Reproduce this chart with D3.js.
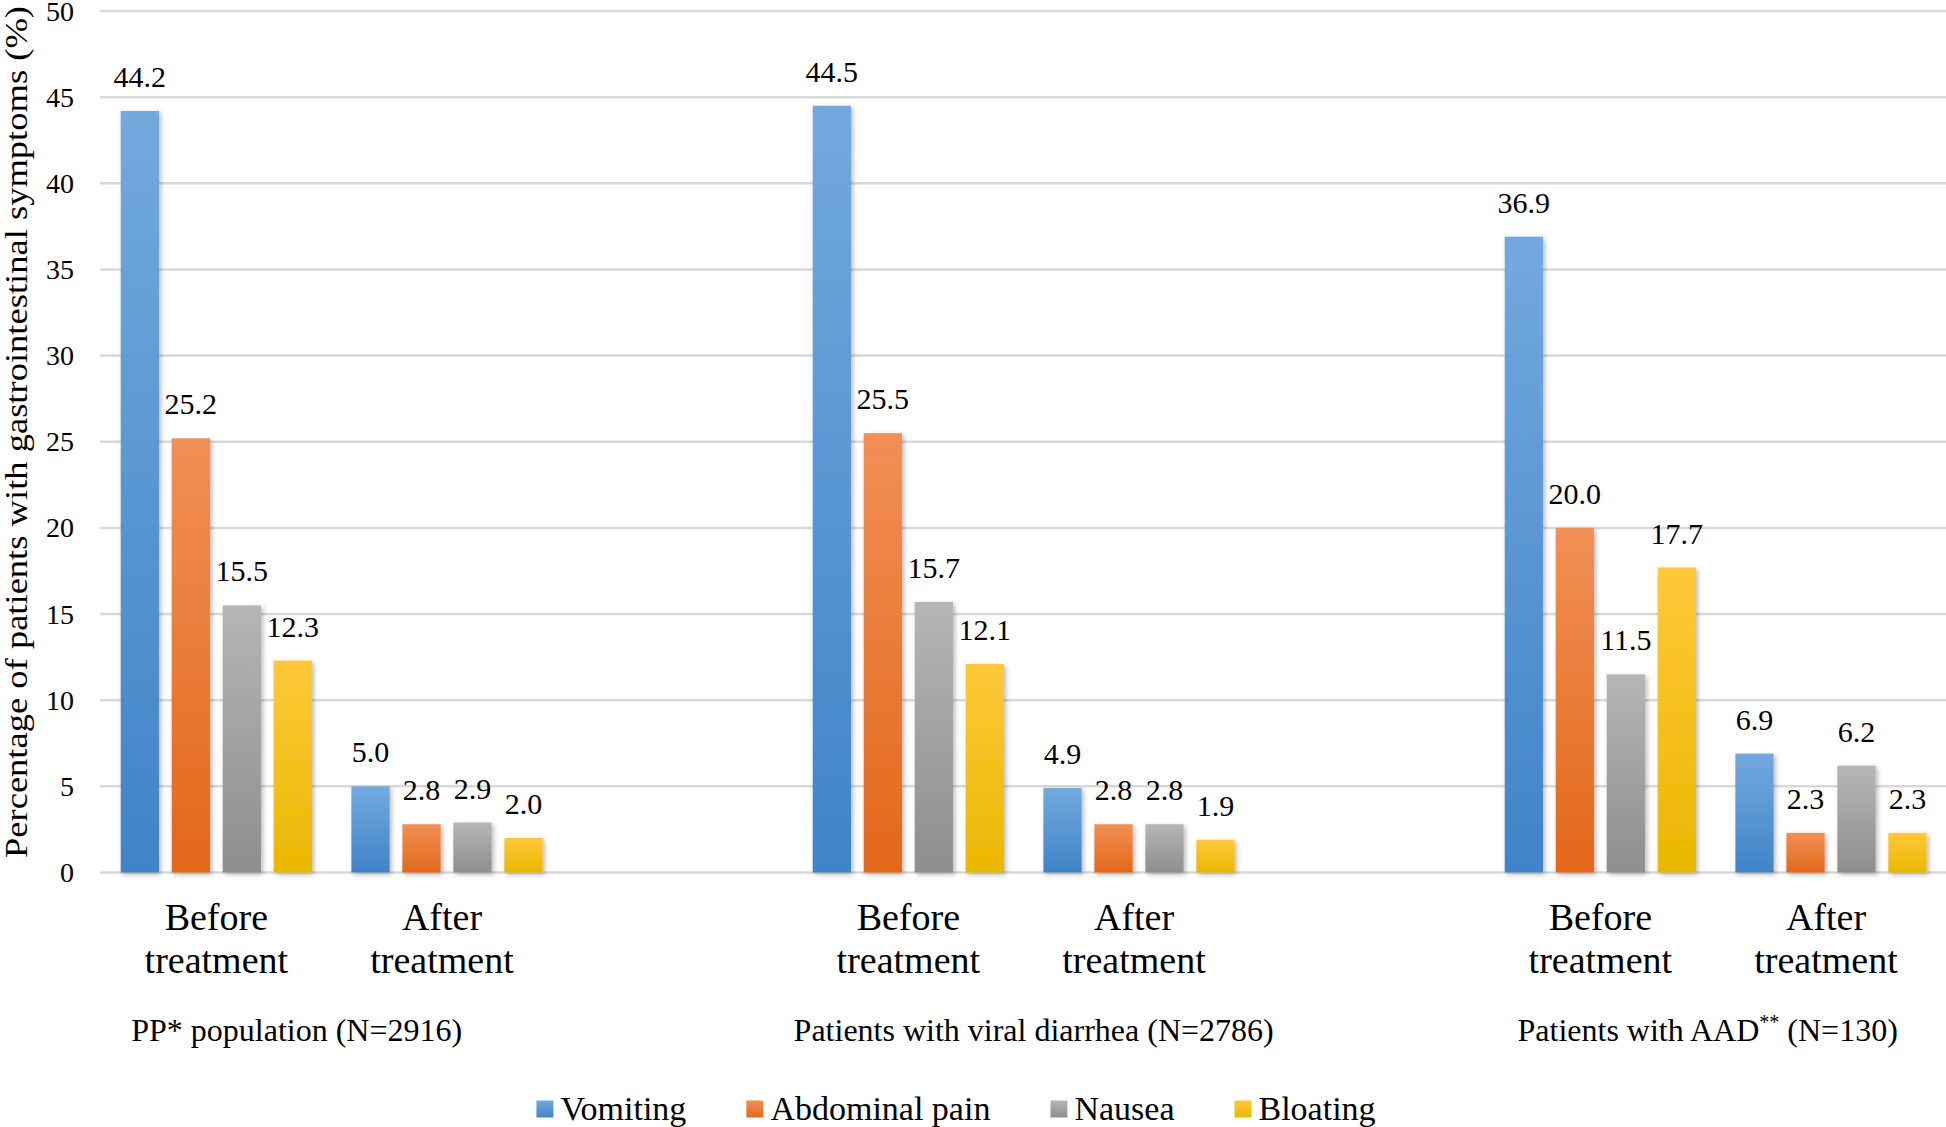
<!DOCTYPE html>
<html>
<head>
<meta charset="utf-8">
<script src="https://cdn.jsdelivr.net/npm/d3@7"></script>
<style>
  html, body { margin: 0; padding: 0; background: #ffffff; }
  svg { display: block; }
</style>
</head>
<body>
<div id="chart"></div>
<script>
// Data
const groupNames = ['PP* population', 'Patients with viral diarrhea', 'Patients with AAD'];
const groupSup = ['', '', '**'];
const groupN = [2916, 2786, 130];
const periods = ['Before treatment', 'After treatment'];
const series = ['Vomiting', 'Abdominal pain', 'Nausea', 'Bloating'];

// values ordered: [g1 before, g1 after, g2 before, g2 after, g3 before, g3 after]
const vomiting = [44.2, 5.0, 44.5, 4.9, 36.9, 6.9];
const abdominalPain = [25.2, 2.8, 25.5, 2.8, 20.0, 2.3];
const nausea = [15.5, 2.9, 15.7, 2.8, 11.5, 6.2];
const bloating = [12.3, 2.0, 12.1, 1.9, 17.7, 2.3];

const yTicks = [0, 5, 10, 15, 20, 25, 30, 35, 40, 45, 50];

// colours (top of gradient, bottom of gradient)
const seriesColors = [
  ['#72a9de', '#3f84c7'],
  ['#f28f55', '#e2681a'],
  ['#b5b5b5', '#8e8e8e'],
  ['#ffc83a', '#eab700'],
];

const FONT = "'Liberation Serif', 'Times New Roman', 'DejaVu Serif', serif";
const width = 1946;
const height = 1127;
const plot = { left: 101, right: 2177, top: 11, bottom: 872.5 };

const seriesValues = [vomiting, abdominalPain, nausea, bloating];

// one slot for each period plus an empty spacer slot per group
const slotKeys = [];
groupNames.forEach((g, gi) => {
  periods.forEach((p) => slotKeys.push(gi + '|' + p));
  slotKeys.push(gi + '|spacer');
});

const rows = [];
groupNames.forEach((g, gi) => {
  periods.forEach((p, pi) => {
    series.forEach((s, si) => {
      rows.push({ key: gi + '|' + p, series: s, si, value: seriesValues[si][gi * 2 + pi] });
    });
  });
});

const x0 = d3.scaleBand().domain(slotKeys).range([plot.left, plot.right]);
const pad = x0.bandwidth() * 0.0855;
const x1 = d3.scaleBand().domain(series)
  .range([pad, x0.bandwidth() - pad])
  .paddingInner(0.25);
const y = d3.scaleLinear().domain([0, 50]).range([plot.bottom, plot.top]);

const svg = d3.select('#chart').append('svg')
  .attr('width', width)
  .attr('height', height)
  .attr('font-family', FONT)
  .style('font-family', FONT);

const defs = svg.append('defs');
seriesColors.forEach((c, i) => {
  const grad = defs.append('linearGradient')
    .attr('id', 'grad' + i)
    .attr('x1', 0).attr('y1', 0).attr('x2', 0).attr('y2', 1);
  grad.append('stop').attr('offset', '0%').attr('stop-color', c[0]);
  grad.append('stop').attr('offset', '100%').attr('stop-color', c[1]);
});
const shadow = defs.append('filter').attr('id', 'shadow')
  .attr('x', '-20%').attr('y', '-5%').attr('width', '160%').attr('height', '120%');
shadow.append('feDropShadow')
  .attr('dx', 2).attr('dy', 2).attr('stdDeviation', 2.5)
  .attr('flood-color', '#000').attr('flood-opacity', 0.28);

// gridlines
svg.append('g')
  .selectAll('line')
  .data(yTicks)
  .enter()
  .append('line')
  .attr('x1', plot.left - 1)
  .attr('x2', width)
  .attr('y1', (d) => y(d))
  .attr('y2', (d) => y(d))
  .attr('stroke', '#d9d9d9')
  .attr('stroke-width', 2.5);

// y tick labels
svg.append('g')
  .selectAll('text')
  .data(yTicks)
  .enter()
  .append('text')
  .attr('x', 74)
  .attr('y', (d) => y(d) + 9.5)
  .attr('text-anchor', 'end')
  .attr('font-size', '28px')
  .text((d) => d);

// y axis title
svg.append('text')
  .attr('transform', `translate(27, 432) rotate(-90)`)
  .attr('text-anchor', 'middle')
  .attr('font-size', '31px')
  .attr('textLength', 852)
  .attr('lengthAdjust', 'spacingAndGlyphs')
  .text('Percentage of patients with gastrointestinal symptoms (%)');

// bars
svg.append('g')
  .selectAll('rect')
  .data(rows)
  .enter()
  .append('rect')
  .attr('x', (d) => x0(d.key) + x1(d.series))
  .attr('y', (d) => y(d.value))
  .attr('width', x1.bandwidth())
  .attr('height', (d) => y(0) - y(d.value))
  .attr('fill', (d) => `url(#grad${d.si})`)
  .attr('filter', 'url(#shadow)');

// value labels
svg.append('g')
  .selectAll('text')
  .data(rows)
  .enter()
  .append('text')
  .attr('x', (d) => x0(d.key) + x1(d.series) + x1.bandwidth() / 2)
  .attr('y', (d) => y(d.value) - 24)
  .attr('text-anchor', 'middle')
  .attr('font-size', '30px')
  .text((d) => d.value.toFixed(1));

// period labels (two lines)
const periodShift = [0, -5];
const periodLabels = svg.append('g');
groupNames.forEach((g, gi) => {
  periods.forEach((p, pi) => {
    const cx = x0(gi + '|' + p) + x0.bandwidth() / 2 + periodShift[pi];
    const t = periodLabels.append('text')
      .attr('text-anchor', 'middle')
      .attr('font-size', '38px');
    p.split(' ').forEach((word, wi) => {
      t.append('tspan').attr('x', cx).attr('y', 930 + wi * 43).text(word);
    });
  });
});

// group labels
const groupLabelShift = [-35, 10, -8];
groupNames.forEach((g, gi) => {
  const cx = (x0(gi + '|' + periods[0]) + x0(gi + '|' + periods[1]) + x0.bandwidth()) / 2
    + groupLabelShift[gi];
  const t = svg.append('text')
    .attr('x', cx)
    .attr('y', 1041)
    .attr('text-anchor', 'middle')
    .attr('font-size', '32px');
  t.append('tspan').text(g);
  if (groupSup[gi]) {
    t.append('tspan').attr('font-size', '20px').attr('dy', -12).text(groupSup[gi]);
    t.append('tspan').attr('dy', 12).text(' (N=' + groupN[gi] + ')');
  } else {
    t.append('tspan').text(' (N=' + groupN[gi] + ')');
  }
});

// legend
const legend = svg.append('g');
const sq = 17;
let lx = 0;
series.forEach((s, i) => {
  const item = legend.append('g').attr('transform', `translate(${lx},0)`);
  item.append('rect')
    .attr('x', 0).attr('y', -sq / 2)
    .attr('width', sq).attr('height', sq)
    .attr('fill', `url(#grad${i})`);
  const label = item.append('text')
    .attr('x', sq + 7)
    .attr('y', 11)
    .attr('font-size', '34px')
    .text(s);
  lx += sq + 7 + label.node().getComputedTextLength() + 60;
});
const legendWidth = lx - 60;
legend.attr('transform', `translate(${956 - legendWidth / 2}, 1109)`);
</script>
</body>
</html>
